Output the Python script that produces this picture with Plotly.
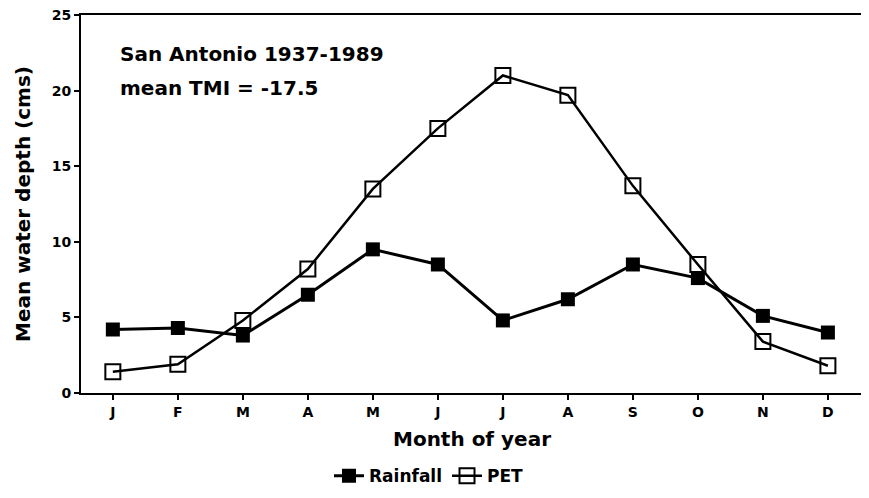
import plotly.graph_objects as go

months = ["J", "F", "M", "A", "M", "J", "J", "A", "S", "O", "N", "D"]
rainfall = [4.2, 4.3, 3.8, 6.5, 9.5, 8.5, 4.8, 6.2, 8.5, 7.6, 5.1, 4.0]
pet = [1.4, 1.9, 4.8, 8.2, 13.5, 17.5, 21.0, 19.7, 13.7, 8.5, 3.4, 1.8]

x = list(range(len(months)))
font = "DejaVu Sans, Arial, sans-serif"

fig = go.Figure()

fig.add_trace(go.Scatter(
    x=x,
    y=rainfall,
    mode="lines+markers",
    name="<b>Rainfall</b>",
    line=dict(color="black", width=3),
    marker=dict(symbol="square", size=14, color="black")
))

fig.add_trace(go.Scatter(
    x=x,
    y=pet,
    mode="lines+markers",
    name="<b>PET</b>",
    line=dict(color="black", width=2.5),
    marker=dict(symbol="square-open", size=15, color="black", line=dict(width=2))
))

# two header lines, spaced wider than plotly's default line height
fig.add_annotation(
    x=0.047, y=0.897, xref="paper", yref="paper",
    text="<b>San Antonio 1937-1989</b>",
    showarrow=False, xanchor="left", yanchor="middle",
    font=dict(family=font, size=20, color="black")
)
fig.add_annotation(
    x=0.047, y=0.808, xref="paper", yref="paper",
    text="<b>mean TMI = -17.5</b>",
    showarrow=False, xanchor="left", yanchor="middle",
    font=dict(family=font, size=20, color="black")
)

fig.update_xaxes(
    tickvals=x,
    ticktext=["<b>%s</b>" % m for m in months],
    range=[-0.49, 11.54],
    showline=True, linecolor="black", linewidth=2, mirror=True,
    ticks="outside", ticklen=5, tickwidth=2, tickcolor="black",
    showgrid=False, zeroline=False,
    tickfont=dict(family=font, size=14, color="black"),
    title=dict(text="<b>Month of year</b>", font=dict(family=font, size=20, color="black"), standoff=13)
)

fig.update_yaxes(
    range=[0, 25],
    tickvals=[0, 5, 10, 15, 20, 25],
    ticktext=["<b>%d</b>" % v for v in [0, 5, 10, 15, 20, 25]],
    ticklabeloverflow="allow",
    showline=True, linecolor="black", linewidth=2, mirror=True,
    ticks="outside", ticklen=5, tickwidth=2, tickcolor="black",
    showgrid=False, zeroline=False,
    tickfont=dict(family=font, size=14, color="black"),
    title=dict(text="<b>Mean water depth (cms)</b>", font=dict(family=font, size=20, color="black"), standoff=16)
)

fig.update_layout(
    width=869, height=498,
    margin=dict(l=73, r=14, t=7, b=113, autoexpand=False),
    plot_bgcolor="white", paper_bgcolor="white",
    font=dict(family=font, color="black"),
    legend=dict(
        orientation="h", x=0.445, y=-0.22, xanchor="center", yanchor="middle",
        font=dict(family=font, size=17, color="black"),
        itemwidth=30
    )
)

fig.write_html("out.html")
